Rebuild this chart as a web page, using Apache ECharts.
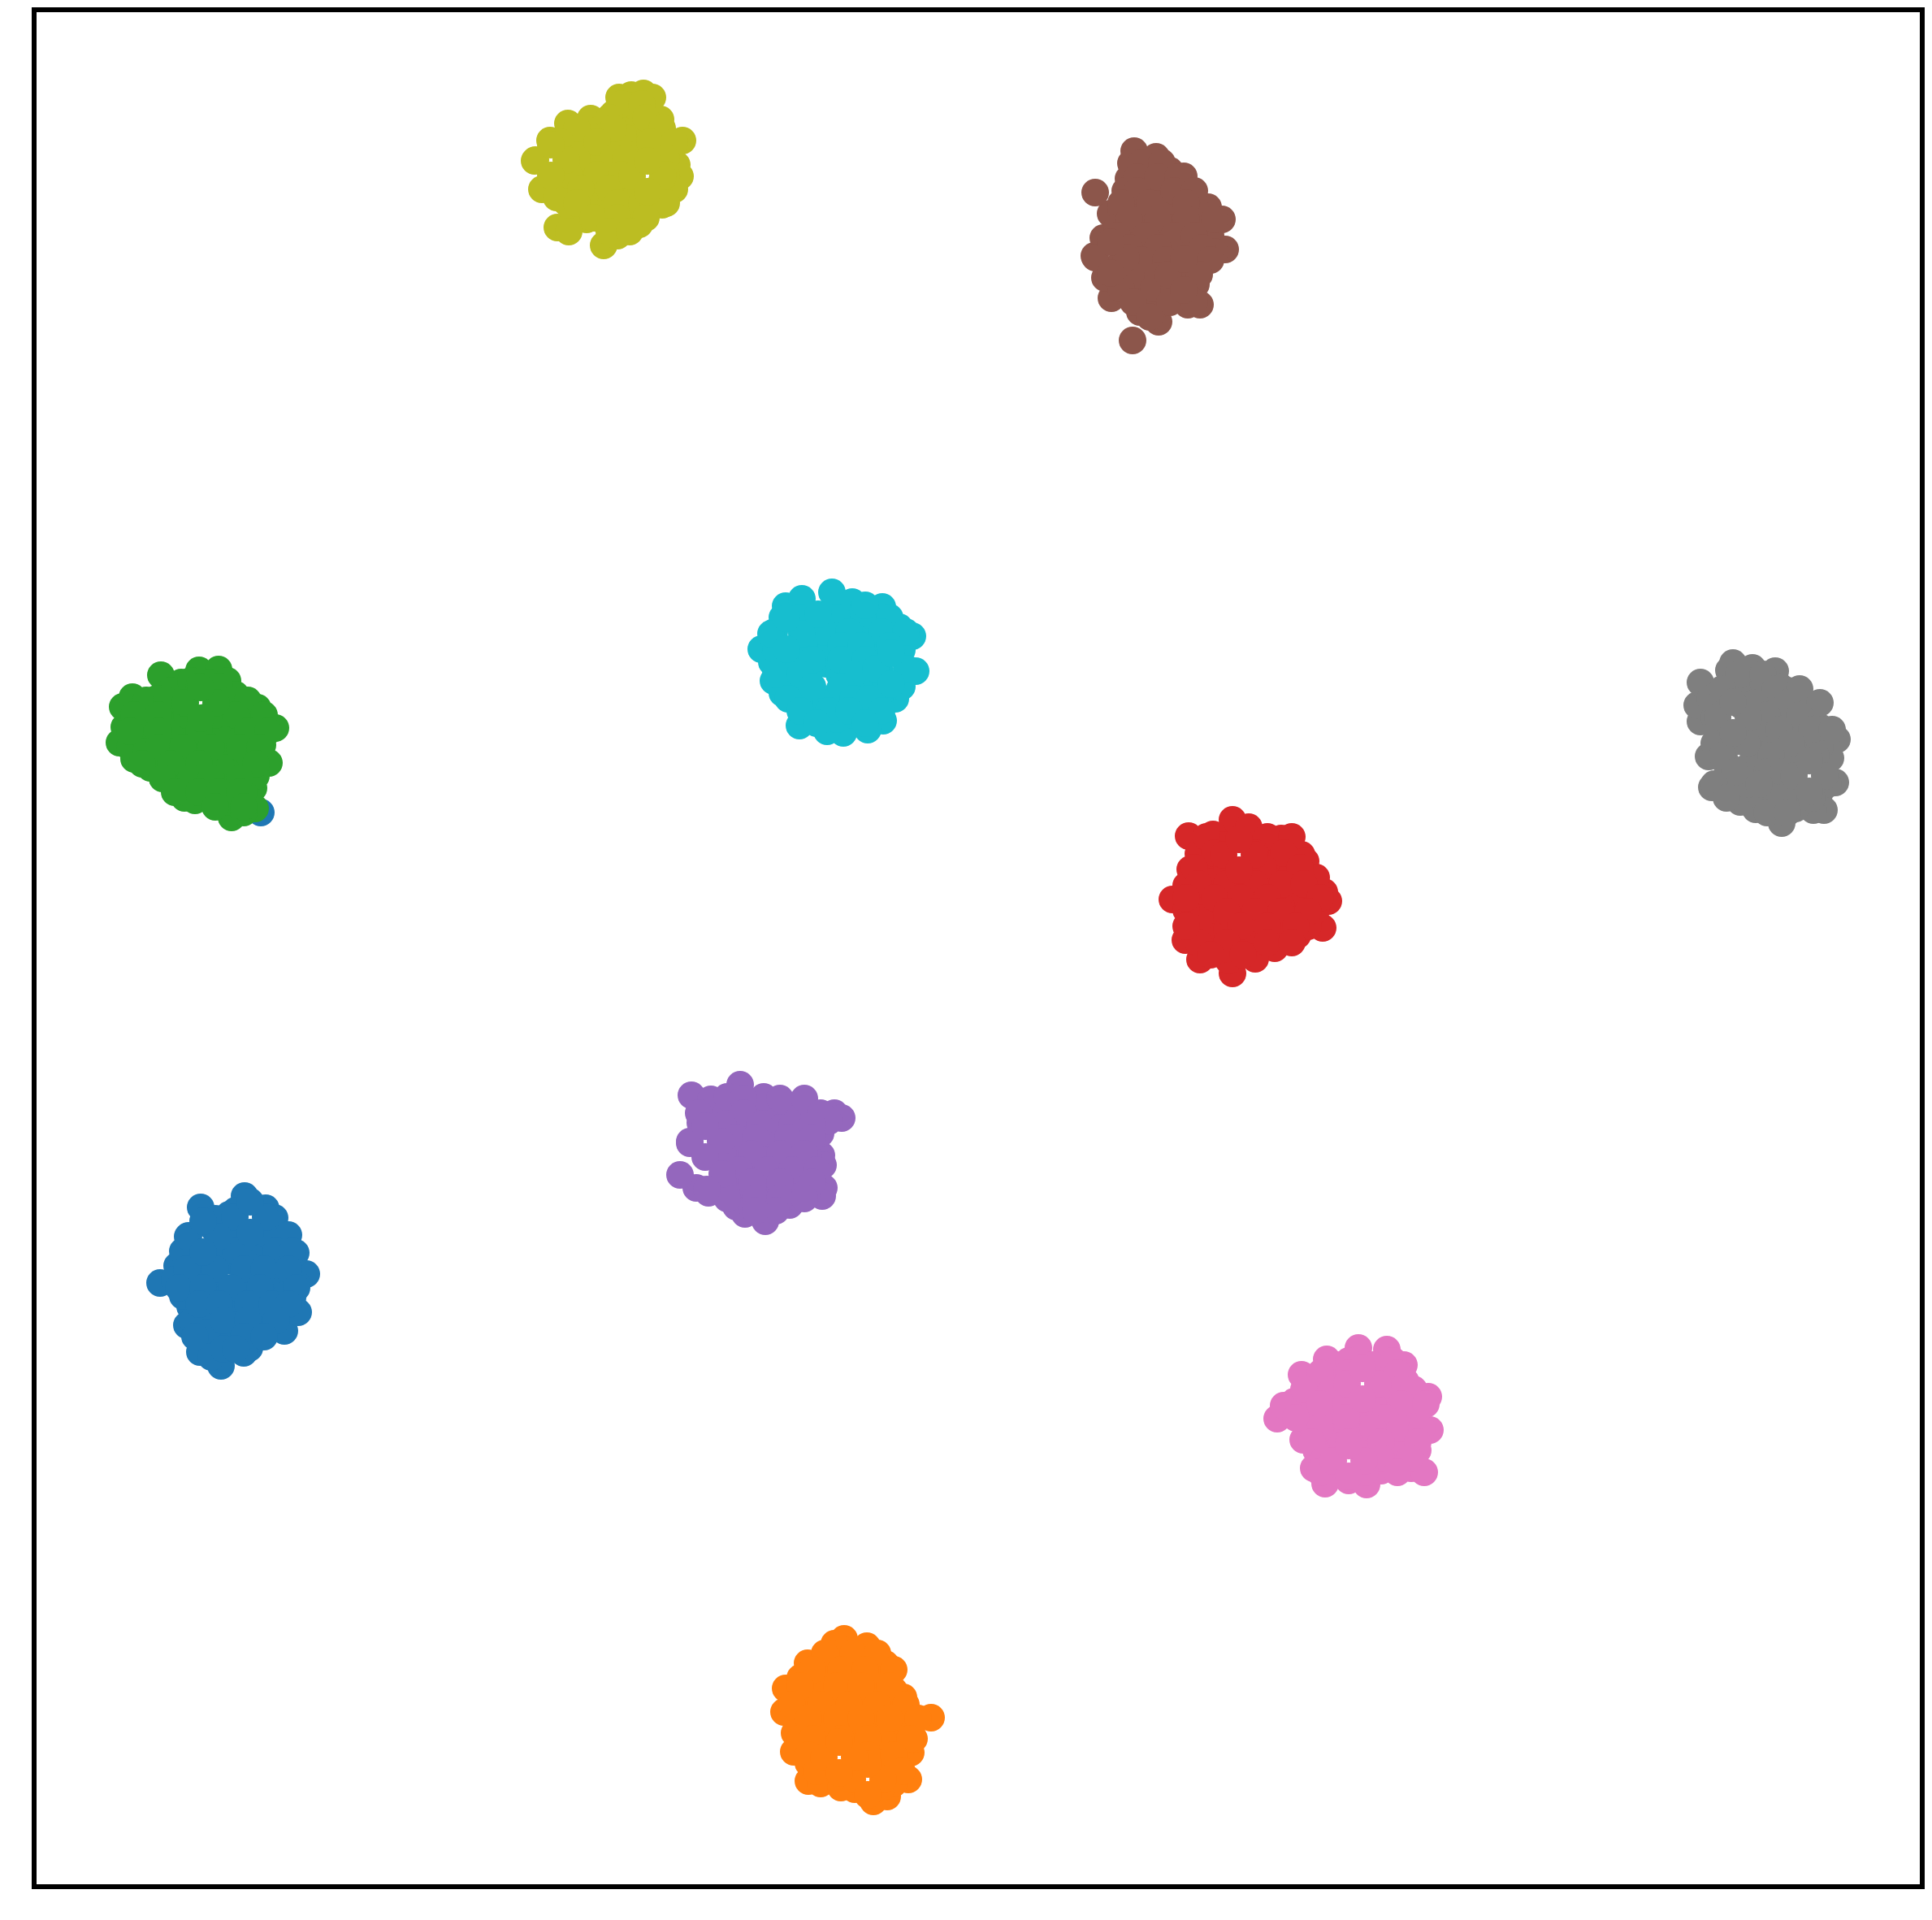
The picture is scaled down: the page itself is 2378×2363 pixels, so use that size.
<!DOCTYPE html>
<html>
<head>
<meta charset="utf-8">
<script src="https://cdn.jsdelivr.net/npm/echarts@6/dist/echarts.min.js"></script>
<style>html,body{margin:0;padding:0;background:#fff;}#chart{width:2378px;height:2363px;}</style>
</head>
<body>
<div id="chart"></div>
<script>
// Cluster points: [x, y] (y grows downward)
const cluster0 = [[301,1472],[327,1487],[338,1499],[247,1486],[282,1495],[232,1521],[218,1558],[197,1579],[234,1608],[230,1631],[246,1664],[272,1681],[307,1659],[315,1647],[350,1638],[367,1615],[360,1597],[377,1568],[364,1542],
  [270,1528],[303,1522],[253,1552],[287,1552],[320,1545],[337,1572],[237,1578],[270,1585],[303,1585],[343,1595],[253,1612],[287,1618],[320,1618],[270,1645],[263,1512],
  [287,1510],[255,1505],[320,1515],[345,1520],[237,1540],[270,1555],[303,1555],[350,1555],[215,1575],[253,1580],[287,1598],[320,1595],[255,1595],[237,1625],[303,1635],[330,1630],[287,1650],[255,1640],[300,1665],[260,1670],[350,1580],[225,1595],[245,1560],[290,1490],[365,1580],[330,1570],
  [265,1500],[335,1500],[285,1520],[330,1520],[355,1520],[225,1540],[260,1540],[290,1540],[340,1540],[360,1540],[230,1562],[265,1562],[300,1562],[325,1562],[355,1562],[220,1585],[250,1585],[285,1585],[320,1585],[365,1585],
  [245,1605],[270,1605],[305,1605],[335,1605],[355,1605],[275,1625],[305,1625],[340,1625],[240,1645],[300,1645],[325,1645],[275,1660],[290,1660],
  [289,1498],[327,1498],[308,1479],[308,1517],[231,1522],[269,1522],[250,1503],[250,1541],
  [321,1000]];
const cluster1 = [[1039,2017],[1067,2026],[1027,2023],[1090,2048],[994,2047],[967,2078],[965,2107],[978,2133],[977,2156],[995,2192],[1052,2202],[1075,2217],[1092,2211],[1118,2190],[1121,2157],[1125,2140],[1112,2089],[1146,2114],
  [1018,2057],[1052,2050],[1085,2073],[1002,2090],[1035,2090],[1068,2090],[1102,2107],[1002,2123],[1035,2123],[1068,2123],[1102,2133],[1015,2153],[1052,2157],[1085,2157],[1042,2183],[1092,2177],[1018,2183],
  [1035,2035],[1060,2040],[1075,2060],[1010,2070],[985,2065],[1050,2070],[1100,2080],[985,2100],[1018,2107],[1052,2107],[1085,2107],[1118,2115],[985,2140],[1018,2135],[1052,2140],[1085,2140],[1110,2150],[995,2170],[1068,2165],[1105,2175],[1010,2195],[1100,2195],
  [1015,2035],[1050,2035],[1080,2035],[1000,2055],[1035,2055],[1065,2055],[1100,2055],[985,2075],[1030,2075],[1060,2075],[1095,2075],[975,2098],[1010,2098],[1045,2098],[1080,2098],[1115,2098],
  [995,2115],[1030,2115],[1060,2115],[1095,2115],[1130,2115],[1000,2140],[1035,2140],[1068,2140],[1120,2140],[995,2160],[1068,2160],[1100,2160],[1110,2180],[1005,2180],[1035,2200],[1085,2200],
  [1049,2190],[1087,2190],[1068,2171],[1068,2209],[1014,2163],[1052,2163],[1033,2144],[1033,2182]];
const cluster2 = [[198,831],[223,840],[245,825],[269,824],[280,838],[303,867],[317,871],[339,896],[323,917],[331,939],[312,970],[314,995],[285,1006],[283,987],[227,982],[252,968],[202,954],[165,934],[147,914],[153,895],[151,870],[163,858],
  [253,883],[177,890],[210,873],[193,917],[227,907],[260,900],[293,900],[227,940],[260,933],[293,933],[277,963],[303,943],[210,850],[270,873],[297,890],
  [193,860],[227,860],[190,875],[170,905],[210,895],[243,898],[277,890],[310,885],[160,920],[210,925],[243,920],[277,915],[310,920],[185,945],[243,955],[277,945],[315,955],[300,975],[265,985],[240,985],[300,1000],[220,960],[180,925],[320,900],[235,838],[258,840],[290,855],
  [245,845],[270,845],[180,862],[205,862],[285,862],[305,862],[165,880],[195,880],[230,880],[265,880],[290,880],[325,880],[160,900],[195,900],[245,900],[305,900],[330,900],
  [195,920],[225,920],[260,920],[295,920],[320,920],[175,940],[210,940],[245,940],[315,940],[200,958],[235,958],[260,958],[295,958],[215,975],[245,975],[270,975],[295,975],[265,993],[300,993],
  [228,865],[266,865],[247,846],[247,884]];
const cluster3 = [[1517,1009],[1537,1018],[1493,1027],[1463,1029],[1577,1032],[1602,1052],[1607,1060],[1630,1098],[1635,1109],[1628,1142],[1597,1151],[1569,1167],[1547,1162],[1517,1198],[1512,1182],[1477,1181],[1459,1157],[1443,1107],[1465,1070],[1475,1051],
  [1493,1063],[1543,1063],[1577,1063],[1510,1097],[1543,1097],[1577,1097],[1610,1097],[1477,1107],[1493,1130],[1527,1130],[1560,1130],[1593,1123],[1527,1157],[1493,1153],[1553,1040],
  [1505,1040],[1530,1077],[1560,1050],[1590,1075],[1620,1080],[1493,1085],[1460,1090],[1560,1080],[1593,1108],[1620,1120],[1510,1115],[1477,1130],[1543,1115],[1577,1115],[1510,1145],[1543,1145],[1577,1145],[1610,1140],[1475,1160],[1500,1170],[1545,1180],[1480,1045],[1460,1120],
  [1485,1030],[1560,1030],[1590,1030],[1495,1050],[1545,1050],[1580,1050],[1470,1068],[1510,1068],[1555,1068],[1600,1068],[1475,1088],[1510,1088],[1545,1088],[1578,1088],[1605,1088],
  [1460,1105],[1495,1105],[1527,1105],[1560,1105],[1625,1105],[1510,1122],[1545,1122],[1577,1122],[1610,1122],[1460,1140],[1527,1140],[1560,1140],[1595,1140],[1510,1160],[1560,1160],[1590,1160],[1530,1175],[1490,1175],
  [1506,1052],[1544,1052],[1525,1033],[1525,1071]];
const cluster4 = [[851,1348],[875,1353],[911,1335],[947,1361],[973,1366],[1002,1375],[1027,1370],[1036,1376],[996,1402],[1011,1422],[1013,1434],[1014,1462],[1012,1472],[972,1483],[942,1503],[917,1494],[906,1485],[872,1468],[857,1462],[837,1446],[849,1407],[862,1382],
  [893,1372],[927,1388],[960,1388],[987,1392],[910,1415],[943,1415],[977,1415],[893,1438],[927,1445],[960,1445],[993,1445],[910,1465],[943,1465],[977,1462],[883,1392],
  [895,1350],[930,1360],[910,1385],[945,1395],[975,1385],[1010,1395],[1020,1380],[893,1405],[927,1430],[960,1430],[995,1425],[893,1460],[927,1465],[960,1465],[993,1470],[925,1485],[960,1480],[990,1460],[940,1350],
  [915,1352],[960,1352],[990,1352],[860,1370],[915,1370],[1010,1370],[890,1385],[935,1385],[1000,1385],[905,1400],[930,1400],[970,1400],[1000,1400],[890,1420],[925,1420],[960,1420],[990,1420],
  [910,1440],[945,1440],[975,1440],[1005,1440],[890,1455],[925,1455],[960,1455],[1000,1455],[895,1475],[930,1475],[960,1475],[990,1475],[955,1490],[930,1490],
  [849,1405],[887,1405],[868,1386],[868,1424],[889,1445],[870,1464]];
const cluster5 = [[1396,186],[1423,193],[1457,217],[1487,255],[1504,270],[1508,307],[1479,325],[1472,350],[1477,375],[1462,375],[1426,396],[1403,384],[1368,367],[1360,342],[1347,315],[1358,293],[1367,263],[1380,257],[1348,237],[1389,220],[1392,201],[1394,419],
  [1410,227],[1437,227],[1410,260],[1443,260],[1470,277],[1393,293],[1427,293],[1460,300],[1393,327],[1427,327],[1450,333],[1410,360],[1443,360],[1377,327],[1477,293],
  [1410,205],[1440,210],[1395,245],[1425,245],[1455,240],[1480,265],[1375,280],[1410,280],[1443,280],[1490,290],[1410,310],[1443,313],[1465,318],[1495,310],[1377,345],[1410,345],[1455,362],[1390,365],[1425,375],[1420,210],[1385,235],
  [1405,200],[1430,200],[1400,218],[1425,218],[1450,218],[1400,235],[1445,235],[1470,235],[1380,250],[1415,250],[1460,250],[1390,270],[1425,270],[1460,270],[1495,270],[1375,290],[1410,290],[1445,290],[1470,290],
  [1390,305],[1425,305],[1480,305],[1405,320],[1435,320],[1490,320],[1395,340],[1425,340],[1380,355],[1420,355],[1445,355],[1395,372],[1440,372],[1470,372],[1415,390],
  [1348,317],[1386,317],[1367,298],[1367,336],[1438,338],[1476,338],[1457,319],[1457,357]];
const cluster6 = [[1672,1659],[1707,1661],[1728,1680],[1633,1673],[1602,1692],[1593,1725],[1572,1746],[1604,1772],[1617,1807],[1631,1826],[1660,1822],[1682,1827],[1712,1802],[1737,1807],[1753,1812],[1758,1719],[1760,1760],
  [1623,1708],[1657,1702],[1697,1702],[1723,1708],[1640,1742],[1673,1735],[1707,1735],[1740,1735],[1607,1748],[1640,1765],[1673,1765],[1707,1765],[1733,1768],[1640,1788],[1683,1792],[1713,1782],
  [1650,1680],[1690,1680],[1715,1690],[1610,1725],[1640,1720],[1690,1718],[1720,1720],[1745,1750],[1623,1750],[1657,1750],[1690,1750],[1720,1750],[1620,1785],[1650,1780],[1690,1780],[1725,1790],[1745,1785],[1700,1810],[1640,1810],[1580,1730],[1730,1700],
  [1660,1675],[1715,1675],[1625,1690],[1660,1690],[1720,1690],[1605,1710],[1640,1710],[1710,1710],[1740,1710],[1625,1728],[1657,1728],[1690,1728],[1725,1728],[1755,1728],[1595,1745],[1657,1745],[1705,1745],
  [1625,1758],[1690,1758],[1725,1758],[1750,1758],[1615,1775],[1660,1775],[1700,1775],[1745,1775],[1630,1795],[1700,1795],[1735,1795],[1680,1812],[1720,1812],[1625,1812],
  [1658,1703],[1696,1703],[1677,1684],[1677,1722],[1641,1798],[1679,1798],[1660,1779],[1660,1817]];
const cluster7 = [[2133,816],[2157,822],[2185,826],[2191,845],[2233,867],[2228,894],[2261,910],[2253,933],[2259,963],[2245,997],[2232,997],[2193,1013],[2161,996],[2142,987],[2107,969],[2103,931],[2130,915],[2093,888],[2089,868],[2093,840],[2110,883],[2128,825],
  [2150,852],[2183,868],[2157,885],[2200,895],[2167,918],[2200,925],[2150,945],[2183,958],[2210,945],[2167,978],[2210,978],[2143,868],[2223,925],[2117,858],[2190,935],
  [2150,835],[2170,840],[2200,850],[2215,875],[2170,860],[2105,860],[2175,900],[2215,905],[2240,920],[2145,905],[2185,915],[2125,940],[2165,945],[2200,945],[2240,975],[2195,965],[2150,965],[2125,960],[2185,990],[2210,995],[2240,895],[2110,915],
  [2140,830],[2170,830],[2120,848],[2185,848],[2215,848],[2160,865],[2200,865],[2240,865],[2175,880],[2215,880],[2160,898],[2190,898],[2230,898],[2255,898],[2150,915],[2205,915],
  [2120,930],[2180,930],[2235,930],[2135,950],[2175,950],[2195,950],[2110,965],[2165,965],[2250,965],[2125,982],[2195,982],[2230,982],[2175,1000],[2200,1000],
  [2114,883],[2152,883],[2133,864],[2133,902],[2208,955],[2246,955],[2227,936],[2227,974]];
const cluster8 = [[762,120],[777,117],[792,115],[803,120],[813,147],[840,173],[833,203],[837,217],[830,233],[795,261],[787,276],[767,283],[743,302],[722,270],[686,280],[697,249],[667,233],[658,198],[677,173],[699,152],[727,146],
  [720,190],[753,173],[787,157],[770,140],[737,207],[770,207],[803,190],[703,223],[737,240],[770,240],[808,238],[753,263],[780,228],[820,173],[697,185],
  [737,160],[770,170],[800,165],[705,175],[740,190],[785,190],[815,205],[720,207],[753,207],[720,240],[753,225],[787,245],[815,252],[705,260],[740,270],[770,260],[780,130],[755,140],[685,243],[760,290],[815,222],
  [765,128],[790,128],[750,145],[795,145],[710,158],[755,158],[815,158],[690,175],[735,175],[800,175],[830,175],[710,195],[755,195],[770,195],[820,195],[700,215],[735,215],[765,215],[820,215],
  [715,232],[750,232],[710,250],[760,250],[790,250],[820,250],[730,268],[760,268],[795,268],[700,285],[750,285],[775,285],
  [659,197],[697,197],[678,178],[678,216],[778,217],[816,217],[797,198],[797,236]];
const cluster9 = [[1024,729],[1049,741],[1086,747],[1107,772],[1123,783],[1127,826],[1102,860],[1087,887],[1068,898],[1038,902],[1018,900],[984,893],[963,853],[952,838],[937,799],[953,778],[963,760],[967,746],[987,737],
  [1000,783],[1033,773],[1067,773],[1093,793],[983,817],[1017,817],[1050,810],[1083,827],[1000,850],[1033,850],[1067,850],[1000,880],[1050,880],[1073,800],[973,800],
  [1010,760],[1050,760],[1080,765],[985,770],[1015,795],[1050,790],[1083,805],[1110,800],[970,830],[1000,820],[1033,830],[1067,830],[985,860],[1017,865],[1050,865],[1083,860],[1030,885],[1065,880],[1110,845],[1105,785],[950,815],
  [1030,745],[1065,745],[985,760],[1030,760],[1095,760],[1015,778],[1045,778],[1085,778],[1115,778],[955,800],[990,795],[1035,795],[1060,795],[1095,795],[1000,812],[1035,812],[1065,812],
  [955,830],[985,830],[1050,830],[1000,845],[1035,845],[1090,845],[970,860],[1050,860],[1070,860],[985,875],[1020,875],[1045,875],[1085,875],[1005,890],[1065,890],
  [949,780],[987,780],[968,761],[968,799],[1007,756],[1078,823],[1116,823],[1097,804],[1097,842]];

const clusters = [cluster0, cluster1, cluster2, cluster3, cluster4, cluster5, cluster6, cluster7, cluster8, cluster9];
const colors = ['#1f77b4','#ff7f0e','#2ca02c','#d62728','#9467bd','#8c564b','#e377c2','#7f7f7f','#bcbd22','#17becf'];

const chart = echarts.init(document.getElementById('chart'), null, {renderer: 'canvas'});
chart.setOption({
  animation: false,
  backgroundColor: '#ffffff',
  grid: {left: 42, top: 12, right: 12, bottom: 41, show: true, borderColor: '#000000', borderWidth: 6, backgroundColor: 'transparent'},
  xAxis: {type: 'value', min: 42, max: 2366, show: false, splitLine: {show: false}},
  yAxis: {type: 'value', min: 12, max: 2322, inverse: true, show: false, splitLine: {show: false}},
  series: clusters.map((d, i) => ({
    type: 'scatter',
    data: d,
    symbol: 'circle',
    symbolSize: 34,
    itemStyle: {color: colors[i], opacity: 1, borderWidth: 0},
    emphasis: {disabled: true},
    z: 2 + i
  }))
});
</script>
</body>
</html>
